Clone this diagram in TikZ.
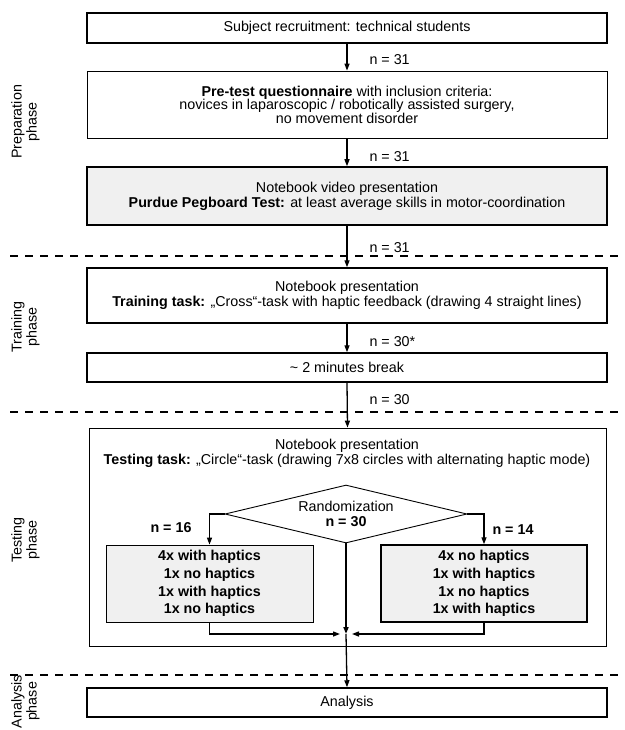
\documentclass[tikz,border=0pt]{standalone}
\usepackage{fontspec}
\setmainfont{Liberation Sans}
\usetikzlibrary{shapes.geometric,arrows.meta}

\begin{document}
\begin{tikzpicture}[x=1pt, y=-1pt,
  font=\fontsize{14.3}{15}\selectfont,
  >={Triangle[length=7pt,width=5pt]},
  stagebox/.style={draw, line width=1.5pt, minimum width=520pt, align=center, inner sep=0pt},
  thinbox/.style={draw, line width=0.8pt, align=center, inner sep=0pt},
  graybox/.style={fill=black!6},
  flow/.style={->, line width=1.3pt},
  phase/.style={rotate=90, align=center, font=\fontsize{14.3}{15}\selectfont},
  phaseline/.style={dash pattern=on 8pt off 7pt, line width=1.2pt}]
  \useasboundingbox (0,0) rectangle (624,730);
  % phase borders
  \draw[phaseline] (10,256) -- (624,256);
  \draw[phaseline] (10,412) -- (624,412);
  \draw[phaseline] (10,675) -- (624,675);
  \node[phase] (prep) at (25.5,122) {Preparation\\ phase};
  \node[phase] (train) at (25.5,327) {Training\\ phase};
  \node[phase] (test) at (25.5,540) {Testing\\ phase};
  \node[phase] (anal) at (25.5,701.5) {Analysis\\ phase};
  % boxes
  \node[stagebox, minimum height=30pt] (recruit) at (347,28) {Subject recruitment: technical students};
  \node[thinbox, minimum width=520pt, minimum height=67pt, font=\fontsize{14.3}{13.5}\selectfont] (pretest) at (347,104.5) {\textbf{Pre-test questionnaire} with inclusion criteria:\\ novices in laparoscopic / robotically assisted surgery,\\ no movement disorder};
  \node[stagebox, graybox, minimum height=58pt] (pegboard) at (347,196) {Notebook video presentation\\ \textbf{Purdue Pegboard Test:} at least average skills in motor-coordination};
  \node[stagebox, minimum height=55pt] (training) at (347,295.5) {Notebook presentation\\ \textbf{Training task:} „Cross“-task with haptic feedback (drawing 4 straight lines)};
  \node[stagebox, minimum height=29pt] (break) at (347,367.5) {\textasciitilde{} 2 minutes break};
  \node[thinbox, minimum width=517pt, minimum height=218pt] (testing) at (347.5,537) {};
  \node[align=center] (testtask) at (347,453.5) {Notebook presentation\\ \textbf{Testing task:} „Circle“-task (drawing 7x8 circles with alternating haptic mode)};
  \node[diamond, draw, line width=0.9pt, minimum width=242pt, minimum height=58pt, aspect=4, inner sep=0pt, align=center] (random) at (346,514) {Randomization\\ \textbf{n = 30}};
  \node[thinbox, graybox, minimum width=207pt, minimum height=77pt, font=\bfseries\fontsize{14.3}{17.7}\selectfont] (grpA) at (209.5,583.5) {4x with haptics\\ 1x no haptics\\ 1x with haptics\\ 1x no haptics};
  \node[stagebox, graybox, minimum width=206pt, minimum height=77pt, font=\bfseries\fontsize{14.3}{17.7}\selectfont] (grpB) at (484,583.5) {4x no haptics\\ 1x with haptics\\ 1x no haptics\\ 1x with haptics};
  \node[stagebox, minimum height=29pt] (analysis) at (347,702.5) {Analysis};
  % sample sizes
  \node[right] (n1) at (366,60) {n = 31};
  \node[right] (n2) at (366,157) {n = 31};
  \node[right] (n3) at (366,248) {n = 31};
  \node[right] (n4) at (366,342) {n = 30*};
  \node[right] (n5) at (366,400) {n = 30};
  \node (nA) at (171,528) {\textbf{n = 16}};
  \node (nB) at (513,530) {\textbf{n = 14}};
  % connectors
  \coordinate (merge) at (346,634);
  \draw[flow] (recruit) -- (pretest);
  \draw[flow] (pretest) -- (pegboard);
  \draw[flow] (pegboard) -- (training);
  \draw[flow] (training) -- (break);
  \draw[flow] (break.south) -- (testing.north);
  \draw[flow] (random.west) -| (grpA.north);
  \draw[flow] (random.east) -| (grpB.north);
  \draw[flow, line width=2pt] (random.south) -- (merge);
  \draw[flow] (grpA.south) |- ([xshift=-6pt]merge);
  \draw[flow] (grpB.south) |- ([xshift=6pt]merge);
  \draw[flow] (merge) -- (analysis.north);
\end{tikzpicture}
\end{document}
